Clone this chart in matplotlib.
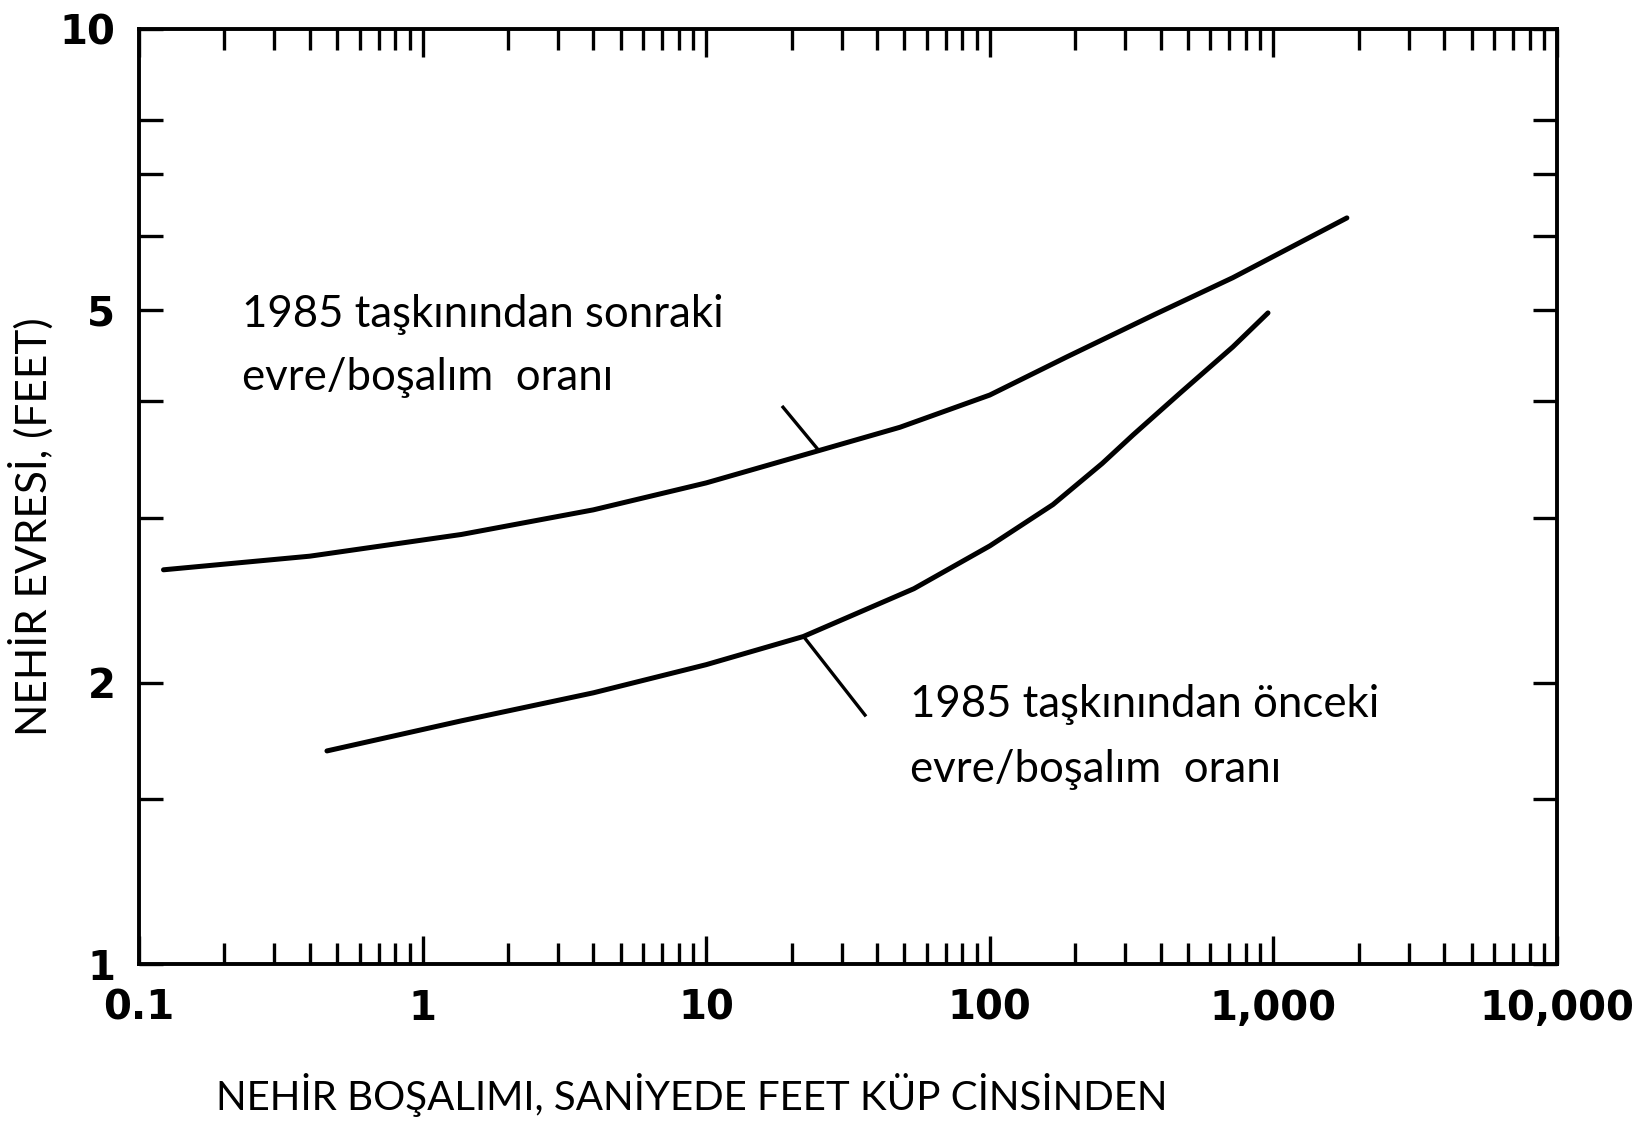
import numpy as np
import matplotlib.pyplot as plt

# values (discharge in cfs, stage in feet)
after_q = [0.122, 0.4, 1.37, 4, 10, 24.9, 48.2, 100, 187, 381, 719, 1816]
after_stage = [2.64, 2.73, 2.88, 3.06, 3.27, 3.54, 3.75, 4.06, 4.46, 4.95, 5.42, 6.28]

before_q = [0.46, 1.37, 4, 10, 22, 54, 100, 167, 249, 320, 469, 719, 957]
before_stage = [1.69, 1.82, 1.95, 2.09, 2.24, 2.52, 2.80, 3.10, 3.43, 3.68, 4.08, 4.57, 4.97]

# leader lines from the labels to the curves
after_ptr_q = [18.66, 24.6]
after_ptr_stage = [3.94, 3.56]
before_ptr_q = [22.3, 36.3]
before_ptr_stage = [2.23, 1.846]

x_ticks = [0.1, 1, 10, 100, 1000, 10000]
x_ticklabels = ["0.1", "1", "10", "100", "1,000", "10,000"]
y_ticks = [1, 2, 5, 10]
y_ticklabels = ["1", "2", "5", "10"]
y_minor = [1.5, 3, 4, 6, 7, 8]

after_label = ["1985 taşkınından sonraki", "evre/boşalım  oranı"]
before_label = ["1985 taşkınından önceki", "evre/boşalım  oranı"]
xlabel = "NEHİR BOŞALIMI, SANİYEDE FEET KÜP CİNSİNDEN"
ylabel = "NEHİR EVRESİ, (FEET)"

W, H = 1645, 1121
text_font = ["Lato", "DejaVu Sans"]


def px(x, y):
    # figure pixel (from top-left) -> figure fraction
    return x / W, 1 - y / H


fig = plt.figure(figsize=(W / 100, H / 100), dpi=100, facecolor="white")
ax = fig.add_axes([139 / W, 1 - 964 / H, (1557 - 139) / W, (964 - 29) / H])

curve = dict(color="black", lw=3.6, solid_capstyle="round", solid_joinstyle="round")
ax.plot(after_q, after_stage, **curve)
ax.plot(before_q, before_stage, **curve)
ax.plot(after_ptr_q, after_ptr_stage, color="black", lw=2.4)
ax.plot(before_ptr_q, before_ptr_stage, color="black", lw=2.4)

ax.set_xscale("log")
ax.set_yscale("log")
ax.set_xlim(0.1, 10000)
ax.set_ylim(1, 10)

ax.set_xticks(x_ticks, x_ticklabels)
ax.set_xticks([m * 10.0**e for e in range(-1, 4) for m in range(2, 10)], minor=True)
ax.set_yticks(y_ticks, y_ticklabels)
ax.set_yticks(y_minor, minor=True)
ax.yaxis.set_minor_formatter(plt.NullFormatter())
ax.xaxis.set_minor_formatter(plt.NullFormatter())

ax.tick_params(axis="both", which="both", direction="in", top=True, right=True,
               width=2.4, color="black")
ax.tick_params(axis="x", which="major", length=20, pad=18)
ax.tick_params(axis="x", which="minor", length=15)
ax.tick_params(axis="y", which="both", length=17, pad=17)
for lab in ax.get_xticklabels() + ax.get_yticklabels():
    lab.set_fontfamily("DejaVu Sans")
    lab.set_fontweight("bold")
    lab.set_fontsize(29)

for s in ax.spines.values():
    s.set_linewidth(2.8)

# curve labels
for i, line in enumerate(after_label):
    fig.text(*px(242, 327 + 63 * i), line, fontsize=31.5, family=text_font,
             ha="left", va="baseline")
for i, line in enumerate(before_label):
    fig.text(*px(910, 717 + 65 * i), line, fontsize=31.5, family=text_font,
             ha="left", va="baseline")

# axis titles
fig.text(*px(692, 1110), xlabel, fontsize=29, family=text_font,
         ha="center", va="baseline")
fig.text(*px(47, 527), ylabel, fontsize=30.5, family=text_font, rotation=90,
         rotation_mode="anchor", ha="center", va="baseline")

fig.savefig("out.png", dpi=100, facecolor="white")
